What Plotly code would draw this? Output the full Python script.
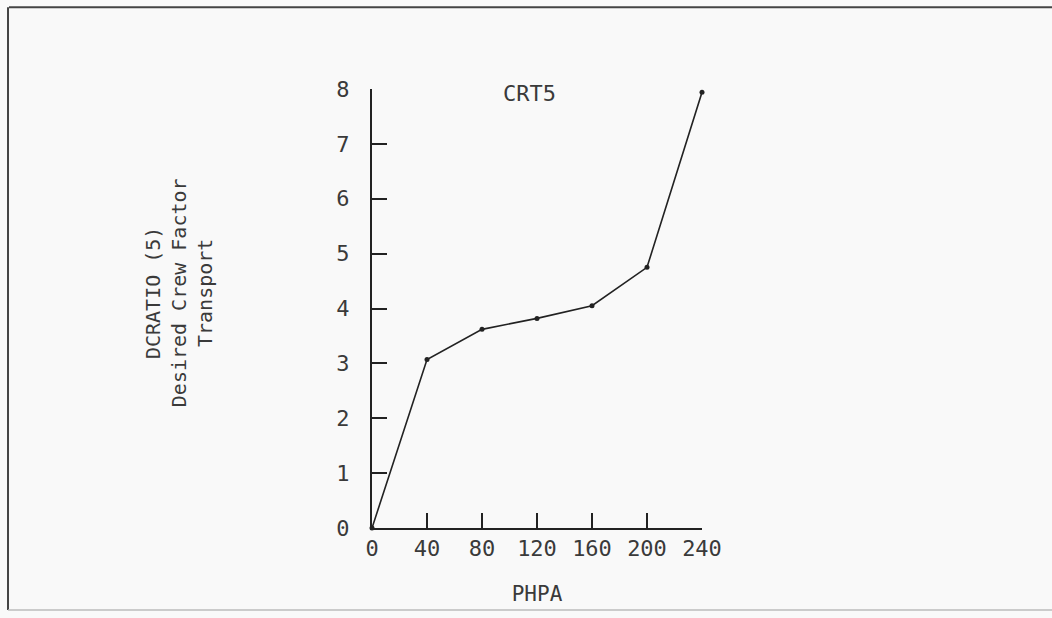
import plotly.graph_objects as go

# Data
phpa = [0, 40, 80, 120, 160, 200, 240]
dcratio = [0.0, 3.07, 3.62, 3.82, 4.05, 4.75, 7.94]
x_ticks = [0, 40, 80, 120, 160, 200, 240]
y_ticks = [0, 1, 2, 3, 4, 5, 6, 7, 8]

FONT = "DejaVu Sans Mono"
INK = "#222222"
TXT = "#3a3a3a"

fig = go.Figure()
fig.add_trace(go.Scatter(
    x=phpa, y=dcratio, mode="lines+markers",
    line=dict(color=INK, width=1.6),
    marker=dict(color=INK, size=5),
    cliponaxis=False, showlegend=False,
))

fig.update_layout(
    width=1052, height=618,
    margin=dict(l=372, r=350, t=89, b=90),
    paper_bgcolor="#f9f9f9", plot_bgcolor="#f9f9f9",
    font=dict(family=FONT, color=TXT, size=22),
    xaxis=dict(
        range=[0, 240], tickvals=x_ticks, ticktext=[str(v) for v in x_ticks],
        showline=True, linecolor=INK, linewidth=2,
        ticks="inside", ticklen=15, tickwidth=2, tickcolor=INK,
        showgrid=False, zeroline=False, ticklabelstandoff=0,
        tickfont=dict(family=FONT, size=22, color=TXT),
        title=dict(text="PHPA", font=dict(family=FONT, size=21, color=TXT), standoff=26),
    ),
    yaxis=dict(
        range=[0, 8], tickvals=y_ticks, ticktext=[str(v) for v in y_ticks],
        showline=True, linecolor=INK, linewidth=2,
        ticks="inside", ticklen=15, tickwidth=2, tickcolor=INK,
        showgrid=False, zeroline=False, ticklabelstandoff=16,
        tickfont=dict(family=FONT, size=22, color=TXT),
    ),
    annotations=[
        dict(text="DCRATIO (5)<br>Desired Crew Factor<br>Transport",
             xref="paper", yref="paper", x=-0.585, y=0.537,
             xanchor="center", yanchor="middle", textangle=-90, showarrow=False,
             font=dict(family=FONT, size=20, color=TXT)),
        dict(text="CRT5", xref="paper", yref="paper", x=0.476, y=0.989,
             xanchor="center", yanchor="middle", showarrow=False,
             font=dict(family=FONT, size=22, color=TXT)),
    ],
    shapes=[
        dict(type="line", xref="paper", yref="paper", x0=-1.1, x1=2.08, y0=1.186, y1=1.186,
             line=dict(color="#444444", width=2)),
        dict(type="line", xref="paper", yref="paper", x0=-1.103, x1=-1.103, y0=1.186, y1=-0.187,
             line=dict(color="#444444", width=2)),
        dict(type="line", xref="paper", yref="paper", x0=-1.103, x1=2.08, y0=-0.187, y1=-0.187,
             line=dict(color="#bbbbbb", width=1.5)),
    ],
)

fig.write_html("out.html")
